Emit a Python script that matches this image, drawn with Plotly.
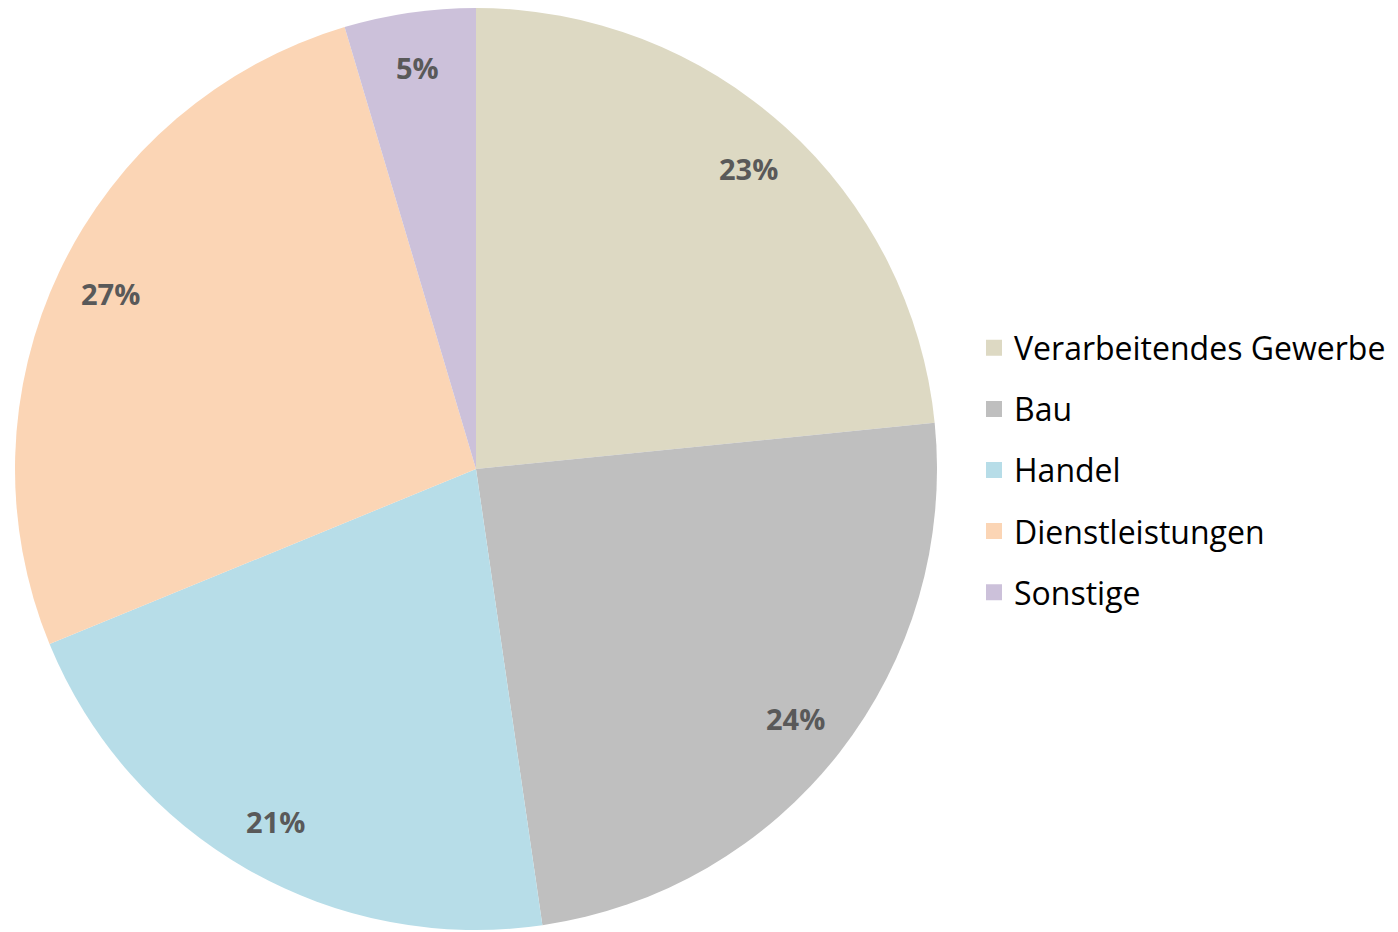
import math
import plotly.graph_objects as go

categories = ["Verarbeitendes Gewerbe", "Bau", "Handel", "Dienstleistungen", "Sonstige"]
values = [23.4, 24.3, 21.1, 26.6, 4.6]
colors = ["#DDD9C3", "#BFBFBF", "#B7DDE8", "#FBD5B5", "#CCC1DA"]

# page body has an 8px margin, so the figure is sized to fit inside the window
OFF = 8
W, H = 1398 - OFF, 932 - OFF
cx, cy, R = 476 - OFF, 469 - OFF, 461

fig = go.Figure()
fig.add_trace(go.Pie(
    labels=categories, values=values, sort=False, direction="clockwise", rotation=0,
    marker=dict(colors=colors, line=dict(width=0)),
    textinfo="none", hoverinfo="label+percent", showlegend=False,
    domain=dict(x=[max(0, (cx - R) / W), min(1, (cx + R) / W)],
                y=[max(0, (H - cy - R) / H), min(1, (H - cy + R) / H)]),
))

# legend entries
for i, (c, col) in enumerate(zip(categories, colors)):
    fig.add_trace(go.Scatter(
        x=[None], y=[None], mode="markers", name=c,
        marker=dict(symbol="square", size=16, color=col),
        legendgroup=str(i), showlegend=True,
    ))

# percentage labels positioned near the outer edge along each slice's mid-angle
total = sum(values)
cum = 0.0
for v in values:
    mid = (cum + v / 2) / total * 2 * math.pi
    cum += v
    r = 0.88 * R
    px = cx + r * math.sin(mid)
    py = cy - r * math.cos(mid)
    fig.add_annotation(
        x=px / W, y=1 - py / H, xref="paper", yref="paper",
        xanchor="center", yanchor="middle",
        text=f"<b>{round(v / total * 100)}%</b>", showarrow=False,
        font=dict(family="Open Sans", size=29, color="#595959"),
    )

fig.update_layout(
    width=W, height=H, margin=dict(l=0, r=0, t=0, b=0),
    paper_bgcolor="white", plot_bgcolor="white",
    xaxis=dict(visible=False), yaxis=dict(visible=False),
    legend=dict(
        x=(974 - OFF) / W, y=0.5, xanchor="left", yanchor="middle",
        font=dict(family="Open Sans", size=32, color="#000000"),
        tracegroupgap=16.5, itemsizing="trace", bgcolor="rgba(0,0,0,0)",
    ),
)

fig.write_html("out.html")
